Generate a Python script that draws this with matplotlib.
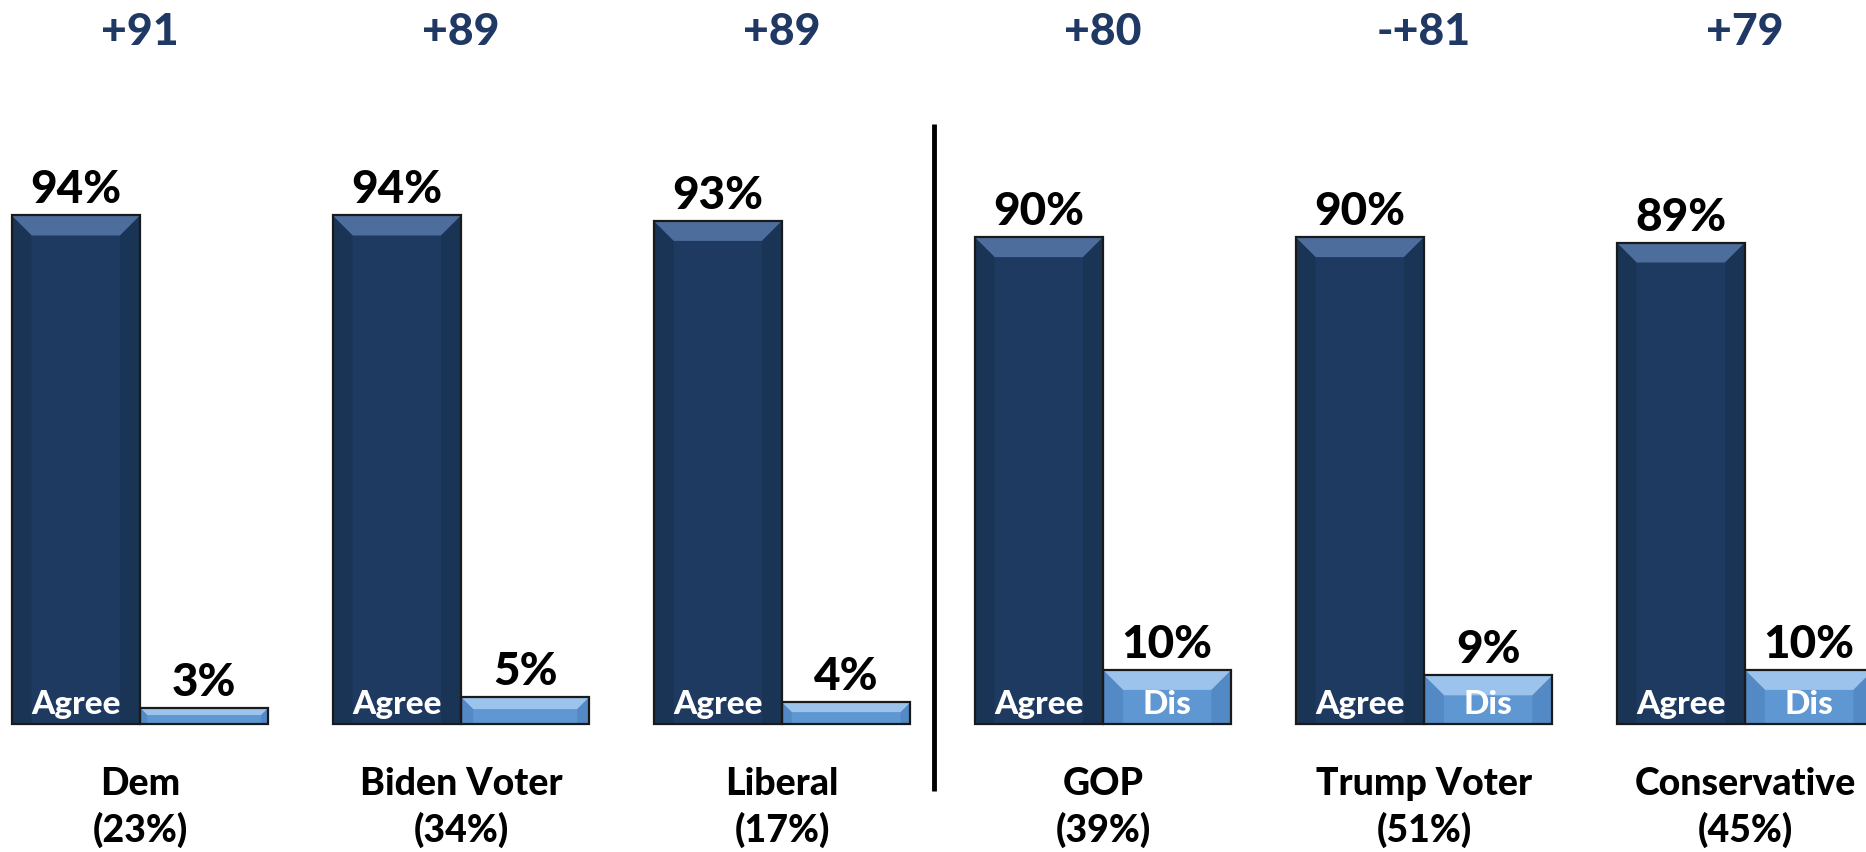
import numpy as np
import matplotlib.pyplot as plt
from matplotlib.patches import Rectangle, Polygon

# data
groups = ['Dem', 'Biden Voter', 'Liberal', 'GOP', 'Trump Voter', 'Conservative']
group_share = ['(23%)', '(34%)', '(17%)', '(39%)', '(51%)', '(45%)']
agree = [94, 94, 93, 90, 90, 89]
disagree = [3, 5, 4, 10, 9, 10]
net_labels = ['+91', '+89', '+89', '+80', '-+81', '+79']
dis_inner = ['', '', '', 'Dis', 'Dis', 'Dis']

dark = '#1F3A60'
dark_top = '#4D6E9C'
dark_side = '#18304F'
light = '#5F97D3'
light_top = '#9CC3EC'
light_side = '#4C80BC'
navy_text = '#1F3864'

plt.rcParams['font.family'] = ['Lato', 'DejaVu Sans']

fig = plt.figure(figsize=(18.66, 8.53), dpi=100)
ax = fig.add_axes([0, 0, 1, 1])
px_x = 321.0   # pixels per group
px_y = 5.41    # pixels per percent
ax.set_xlim(-140 / px_x, (1866 - 140) / px_x)
ax.set_ylim(-128 / px_y, (853 - 128) / px_y)
ax.axis('off')

w = 0.4
bev_x = 20 / px_x
bev_y = 20 / px_y


def bevel_bar(x0, h, face, top, side):
    x1 = x0 + w
    ax.add_patch(Rectangle((x0, 0), w, h, facecolor=face, edgecolor='none', zorder=2))
    by = min(bev_y, h * 0.45)
    bx = bev_x * by / bev_y
    # top bevel
    ax.add_patch(Polygon([(x0, h), (x1, h), (x1 - bx, h - by), (x0 + bx, h - by)],
                         closed=True, facecolor=top, edgecolor='none', zorder=3))
    # side bevels
    ax.add_patch(Polygon([(x0, 0), (x0, h), (x0 + bx, h - by), (x0 + bx, 0)],
                         closed=True, facecolor=side, edgecolor='none', alpha=0.6, zorder=3))
    ax.add_patch(Polygon([(x1, 0), (x1, h), (x1 - bx, h - by), (x1 - bx, 0)],
                         closed=True, facecolor=side, edgecolor='none', alpha=0.6, zorder=3))
    ax.add_patch(Rectangle((x0, 0), w, h, facecolor='none', edgecolor='#1a1a1a',
                           linewidth=1.6, zorder=4))


for i in range(len(groups)):
    xa = i - w
    xd = i
    bevel_bar(xa, agree[i], dark, dark_top, dark_side)
    bevel_bar(xd, disagree[i], light, light_top, light_side)

    ax.text(xa + w / 2, agree[i] + 2.4, f'{agree[i]}%', ha='center', va='baseline',
            fontsize=33, fontweight='black', color='black')
    ax.text(xd + w / 2, disagree[i] + 2.4, f'{disagree[i]}%', ha='center', va='baseline',
            fontsize=33, fontweight='black', color='black')
    ax.text(xa + w / 2, 2.0, 'Agree', ha='center', va='baseline',
            fontsize=24, fontweight='black', color='white', zorder=5)
    if dis_inner[i]:
        ax.text(xd + w / 2, 2.0, dis_inner[i], ha='center', va='baseline',
                fontsize=24, fontweight='black', color='white', zorder=5)

    ax.text(i, 125.7, net_labels[i], ha='center', va='baseline',
            fontsize=32, fontweight='black', color=navy_text)
    ax.text(i, -12.9, groups[i], ha='center', va='baseline',
            fontsize=27, fontweight='black', color='black')
    ax.text(i, -21.6, group_share[i], ha='center', va='baseline',
            fontsize=27, fontweight='black', color='black')

divider_x = 2.475
ax.plot([divider_x, divider_x], [110.9, -12.4], color='black', linewidth=3.5,
        solid_capstyle='butt')

fig.savefig('out.png', dpi=100, facecolor='white')
